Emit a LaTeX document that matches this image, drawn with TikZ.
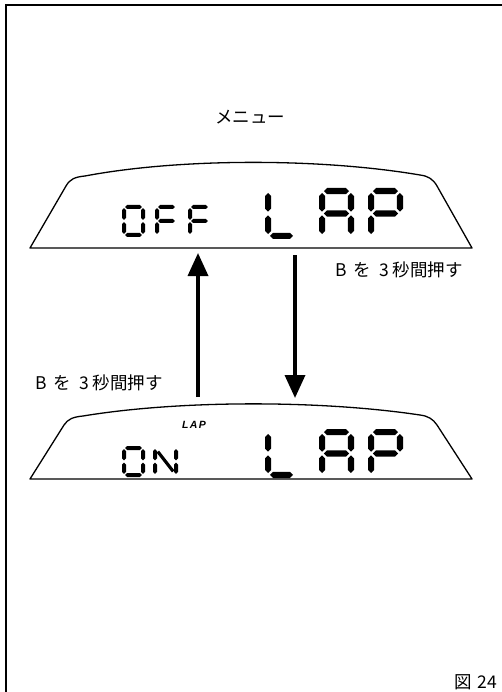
\documentclass[tikz,border=0pt]{standalone}
\usepackage{fontspec}
\setmainfont{Noto Sans CJK JP}
\newfontfamily\lapfont[LetterSpace=14]{Liberation Sans}
\usetikzlibrary{arrows.meta}
\newcommand{\hsg}[4]{\fill ({#1},{#3}) -- ({#1+#4/2},{#3-#4/2}) -- ({#2-#4/2},{#3-#4/2}) -- ({#2},{#3}) -- ({#2-#4/2},{#3+#4/2}) -- ({#1+#4/2},{#3+#4/2}) -- cycle;}
\newcommand{\vsg}[4]{\fill ({#1},{#2}) -- ({#1+#4/2},{#2+#4/2}) -- ({#1+#4/2},{#3-#4/2}) -- ({#1},{#3}) -- ({#1-#4/2},{#3-#4/2}) -- ({#1-#4/2},{#2+#4/2}) -- cycle;}
\newcommand{\setdig}[5]{%
  \pgfmathsetmacro\dT{#5}%
  \pgfmathsetmacro\dL{#1+#5/2}%
  \pgfmathsetmacro\dR{#1+#3-#5/2}%
  \pgfmathsetmacro\dTop{#2+#5/2}%
  \pgfmathsetmacro\dM{#2+#4/2}%
  \pgfmathsetmacro\dB{#2+#4-#5/2}%
  \pgfmathsetmacro\dG{#5*0.3}}
\newcommand{\segA}{\hsg{\dL+\dG}{\dR-\dG}{\dTop}{\dT}}
\newcommand{\segB}{\vsg{\dR}{\dTop+\dG}{\dM-\dG}{\dT}}
\newcommand{\segC}{\vsg{\dR}{\dM+\dG}{\dB-\dG}{\dT}}
\newcommand{\segD}{\hsg{\dL+\dG}{\dR-\dG}{\dB}{\dT}}
\newcommand{\segE}{\vsg{\dL}{\dM+\dG}{\dB-\dG}{\dT}}
\newcommand{\segF}{\vsg{\dL}{\dTop+\dG}{\dM-\dG}{\dT}}
\newcommand{\segG}{\hsg{\dL+\dG}{\dR-\dG}{\dM}{\dT}}
\newcommand{\segN}{\draw[line width={\dT*0.8pt}] ({\dL+\dT*0.7},{\dTop+\dT*0.9}) -- ({\dR-\dT*0.7},{\dB-\dT*0.9});}
\tikzset{
  lcdframe/.style={line width=1.3pt, line join=round},
  bigarrow/.style={line width=3.5pt, -{Triangle[width=20pt,length=23pt]}},
  label/.style={font=\fontsize{17.5}{19}\selectfont, inner sep=0pt},
}
\begin{document}
\begin{tikzpicture}[x=1pt,y=-1pt]
\useasboundingbox (0,0) rectangle (502,692);
\clip (0,0) rectangle (502,692);
\fill[white] (0,0) rectangle (502,692);
% frame
\draw[line width=1.5pt] (6,700) -- (6,5) -- (510,5);
% title
\node[label] (menu) at (250,117) {メニュー};
% top display outline
\draw[lcdframe] (30,248) -- (66,186) .. controls (70,179) and (75,177) .. (85,176)
  .. controls (180,158) and (320,158) .. (420,175)
  .. controls (428,176) and (433,179) .. (437,186) -- (472,248) -- cycle;
% bottom display outline
\draw[lcdframe] (30,479) -- (64,425) .. controls (68,419) and (73,417) .. (83,416)
  .. controls (180,400) and (320,400) .. (420,415)
  .. controls (428,416) and (433,419) .. (437,425) -- (472,479) -- cycle;
% top: OFF
\setdig{122}{205}{23}{32}{4}\segA\segB\segC\segD\segE\segF
\setdig{155}{205}{23}{32}{4}\segA\segE\segF\segG
\setdig{188}{205}{23}{32}{4}\segA\segE\segF\segG
% top: LAP
\setdig{265}{188}{33}{51}{6.2}\segD\segE\segF
\setdig{319}{188}{35}{51}{6.2}\segA\segB\segC\segE\segF\segG
\setdig{368}{188}{35}{51}{6.2}\segA\segB\segE\segF\segG
% bottom: ON
\setdig{122}{446}{23}{31}{4}\segA\segB\segC\segD\segE\segF
\setdig{153}{446}{25}{31}{4}\segB\segC\segE\segF\segN
% bottom: LAP
\setdig{265}{429}{33}{49}{6.2}\segD\segE\segF
\setdig{319}{429}{35}{49}{6.2}\segA\segB\segC\segE\segF\segG
\setdig{368}{429}{35}{49}{6.2}\segA\segB\segE\segF\segG
\node[font=\lapfont\bfseries\itshape\fontsize{10.5}{12}\selectfont, inner sep=0pt] (laplabel) at (194,425) {LAP};
% arrows
\coordinate (upS) at (198,397);
\coordinate (upE) at (198,253);
\coordinate (dnS) at (295,255);
\coordinate (dnE) at (295,398);
\draw[bigarrow] (upS) -- (upE);
\draw[bigarrow] (dnS) -- (dnE);
% labels
\node[label, anchor=west] (rlab) at (335,270) {B\hspace{7pt}を\hspace{8pt}3\hspace{4pt}秒間押す};
\node[label, anchor=west] (llab) at (35,383) {B\hspace{7pt}を\hspace{8pt}3\hspace{4pt}秒間押す};
\node[label, anchor=east] (fig) at (497,682) {図\hspace{5pt}24};
\end{tikzpicture}
\end{document}
